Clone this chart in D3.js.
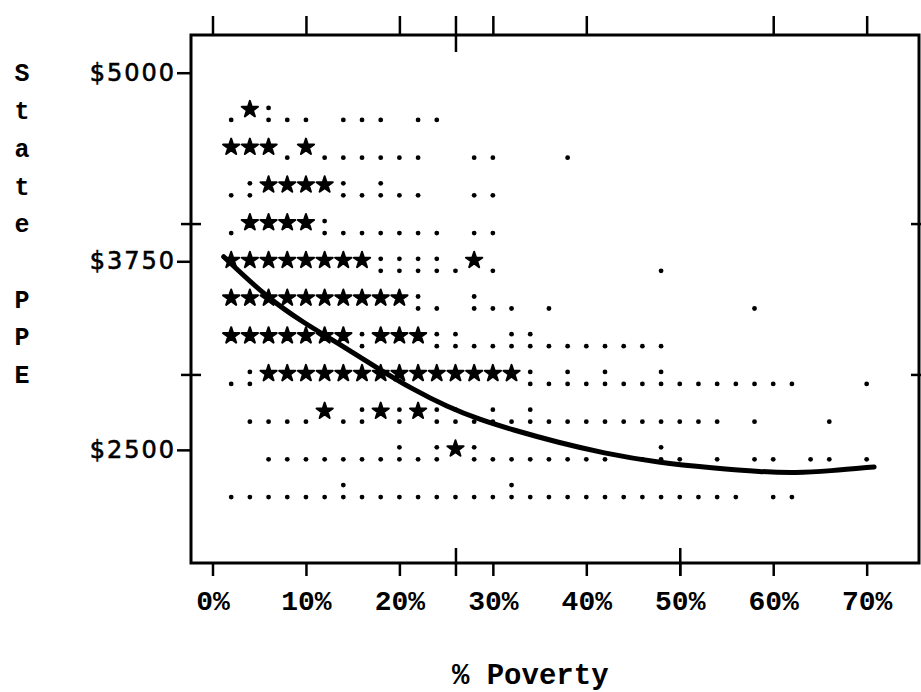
<!DOCTYPE html>
<html>
<head>
<meta charset="utf-8">
<script src="https://cdn.jsdelivr.net/npm/d3@7"></script>
<style>
body { margin: 0; background: #fff; }
.tick line { stroke: #000; stroke-width: 2.5; }
.ylab { font-family: "DejaVu Sans", sans-serif; font-size: 24px; letter-spacing: 2px; stroke: #000; stroke-width: 0.6px; }
.xlab { font-family: "Liberation Mono", monospace; font-size: 28px; font-weight: bold; }
.title { font-family: "Liberation Mono", monospace; font-size: 29px; font-weight: bold; }
</style>
</head>
<body>
<div id="plot"></div>
<script>
// printer plot rows: state PPE value of each line
var rowValues = [4750, 4500, 4250, 4000, 3750, 3500, 3250, 3000, 2750, 2500, 2250];
// symbol printed in each column of the row (column k = 2k % poverty)
var rowMarks = [
    " .*:.. ... ..",
    " ***.*......  ..   .",
    " .:****:.:..  ..",
    " .****:...... ..",
    " ********::::.*.        .",
    " **********:. :.. .          .",
    " *******:***::..::.......",
    " .:**************:.:.:..:.......   .",
    "  ....*.:*:*::.:.:.......... .   .",
    "   .......:.:*:....... .:. . .. .. .",
    " ......:........:............ .."
];
var colStep = 2;

// smoothed fit line
var curvePov = [1.2, 5.8, 9.7, 13.7, 17.9, 21.5, 25.1, 28.6, 32.1, 37.1, 41.7, 47.8, 53.5, 58.8, 62.4, 66, 70.8];
var curvePPE = [3780, 3511, 3344, 3198, 3032, 2899, 2786, 2700, 2633, 2547, 2480, 2414, 2380, 2354, 2347, 2360, 2387];

// axis ticks
var yTickValues = [5000, 3750, 2500];
var yMinorTicks = [4000, 3000];
var xTickValues = [0, 10, 20, 30, 40, 50, 60, 70];
var xTopTicks = [0, 10, 20, 30, 40, 60, 70];
var xCrossTop = [26];
var xCrossBottom = [26, 50];
var yTitle = "State PPE";
var xTitle = "% Poverty";

var width = 921, height = 692;

const svg = d3.select("#plot")
    .append("svg")
    .attr("width", width)
    .attr("height", height)
    .style("background", "#fff");

// scales: frame runs from x 191 to 919, y 35 to 563
var xscale = d3.scaleLinear().domain([-2.3, 75.6]).range([191, 919]);
var yscale = d3.scaleLinear().domain([1750, 5250]).range([563, 35]);

// frame
svg.append("rect")
    .attr("x", xscale(-2.3))
    .attr("y", yscale(5250))
    .attr("width", xscale(75.6) - xscale(-2.3))
    .attr("height", yscale(1750) - yscale(5250))
    .attr("fill", "none")
    .attr("stroke", "#000")
    .attr("stroke-width", 3);

// left y axis with dollar labels
var yAxis = d3.axisLeft(yscale).tickValues(yTickValues)
    .tickFormat(function(d) { return "$" + d; })
    .tickSize(14).tickPadding(1);
svg.append("g")
    .attr("transform", `translate(${xscale(-2.3)},0)`)
    .call(yAxis)
    .call(g => g.select(".domain").remove())
    .selectAll("text")
        .attr("class", "ylab")
        .attr("fill", "#000");

// crossing ticks on left and right border
svg.append("g")
    .attr("transform", `translate(${xscale(-2.3) + 10},0)`)
    .call(d3.axisLeft(yscale).tickValues(yMinorTicks).tickSize(20).tickFormat(""))
    .call(g => g.select(".domain").remove());
svg.append("g")
    .attr("transform", `translate(${xscale(75.6) + 2},0)`)
    .call(d3.axisLeft(yscale).tickValues(yMinorTicks).tickSize(10).tickFormat(""))
    .call(g => g.select(".domain").remove());

// top ticks
svg.append("g")
    .attr("transform", `translate(0,${yscale(5250)})`)
    .call(d3.axisTop(xscale).tickValues(xTopTicks).tickSize(19).tickFormat(""))
    .call(g => g.select(".domain").remove());
svg.append("g")
    .attr("transform", `translate(0,${yscale(5250) + 17})`)
    .call(d3.axisTop(xscale).tickValues(xCrossTop).tickSize(36).tickFormat(""))
    .call(g => g.select(".domain").remove());

// bottom axis with % labels
var xAxis = d3.axisBottom(xscale).tickValues(xTickValues)
    .tickFormat(function(d) { return d + "%"; })
    .tickSize(13).tickPadding(14);
svg.append("g")
    .attr("transform", `translate(0,${yscale(1750)})`)
    .call(xAxis)
    .call(g => g.select(".domain").remove())
    .selectAll("text")
        .attr("class", "xlab")
        .attr("fill", "#000");
svg.append("g")
    .attr("transform", `translate(0,${yscale(1750) - 15})`)
    .call(d3.axisBottom(xscale).tickValues(xCrossBottom).tickSize(28).tickFormat(""))
    .call(g => g.select(".domain").remove());

// x axis title
svg.append("text")
    .attr("class", "title")
    .attr("x", xscale(34))
    .attr("y", yscale(1000) + 8)
    .attr("text-anchor", "middle")
    .text(xTitle);

// y axis title, one letter per printer line
svg.append("g")
    .selectAll("text")
    .data(yTitle.split(""))
    .join("text")
    .attr("class", "title")
    .attr("x", 22)
    .attr("y", function(d, i) { return yscale(5000 - i * 250); })
    .attr("dy", "0.35em")
    .attr("text-anchor", "middle")
    .style("font-size", "25px")
    .text(function(d) { return d; });

// flatten the character grid into marks
var marks = [];
rowMarks.forEach(function(str, r) {
    str.split("").forEach(function(ch, k) {
        if (ch != " ") marks.push({pov: k * colStep, ppe: rowValues[r], ch: ch});
    });
});

var plot = svg.append("g");

// stars
var star = d3.symbol().type(d3.symbolStar).size(82);
plot.selectAll(".star")
    .data(marks.filter(d => d.ch == "*"))
    .join("path")
    .attr("class", "star")
    .attr("transform", d => `translate(${xscale(d.pov)},${yscale(d.ppe) - 1})`)
    .attr("d", star)
    .attr("fill", "#000")
    .attr("stroke", "#000")
    .attr("stroke-width", 2)
    .attr("stroke-linejoin", "round");

// dots: '.' one dot on the baseline, ':' adds one above
var dots = [];
marks.forEach(function(d) {
    if (d.ch == "." || d.ch == ":") dots.push({pov: d.pov, ppe: d.ppe, up: false});
    if (d.ch == ":") dots.push({pov: d.pov, ppe: d.ppe, up: true});
});
plot.selectAll(".dot")
    .data(dots)
    .join("circle")
    .attr("class", "dot")
    .attr("cx", d => xscale(d.pov))
    .attr("cy", d => yscale(d.ppe) + (d.up ? -2.5 : 9.5))
    .attr("r", 2.4)
    .attr("fill", "#000");

// fitted curve
var curveData = curvePov.map(function(p, i) { return {pov: p, ppe: curvePPE[i]}; });
var valueline = d3.line()
    .x(d => xscale(d.pov))
    .y(d => yscale(d.ppe))
    .curve(d3.curveBasis);
svg.append("path")
    .datum(curveData)
    .attr("d", valueline)
    .attr("fill", "none")
    .attr("stroke", "#000")
    .attr("stroke-width", 5)
    .attr("stroke-linecap", "round");
</script>
</body>
</html>
